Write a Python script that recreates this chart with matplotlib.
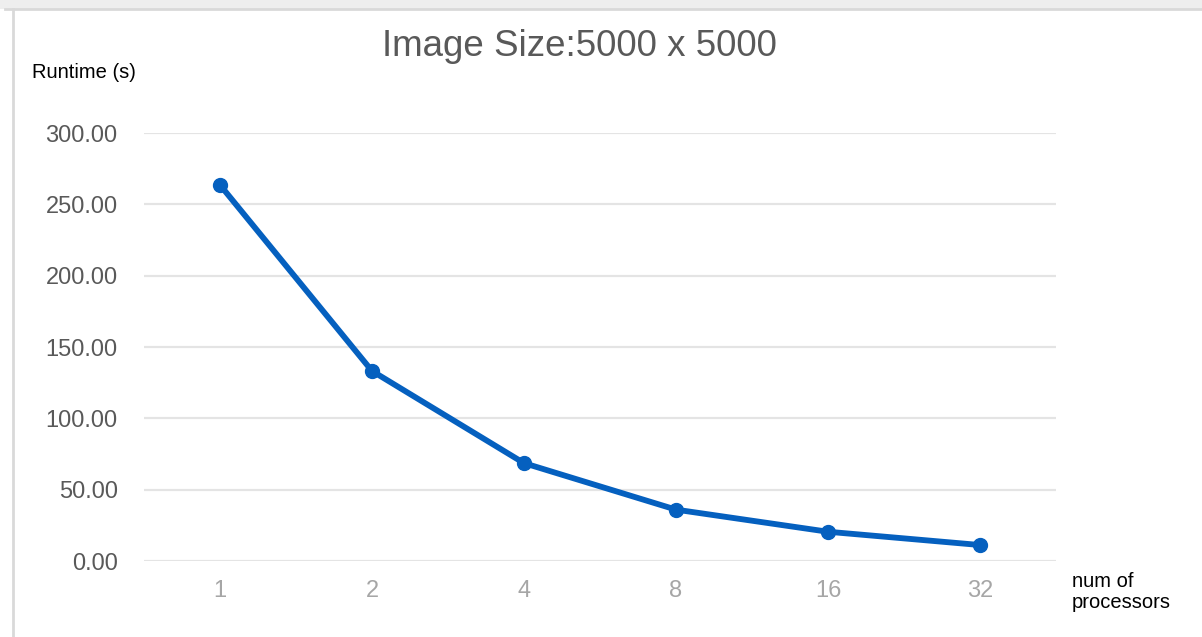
import matplotlib
matplotlib.use("Agg")
from matplotlib import pyplot as plt
from matplotlib.patches import Rectangle

# Daten
processors = ["1", "2", "4", "8", "16", "32"]
runtime = [263.6, 133.2, 68.6, 36.0, 20.5, 11.2]
y_ticks = [0, 50, 100, 150, 200, 250, 300]

W, H = 1202, 637
plt.rcParams["font.family"] = ["Liberation Sans", "DejaVu Sans"]

fig = plt.figure(figsize=(W / 100, H / 100), dpi=100)

# Rahmen und grauer Streifen oben
fig.patches.append(Rectangle((0, 1 - 9 / H), 1, 9 / H, transform=fig.transFigure,
                             facecolor="#eeeeee", edgecolor="none", zorder=0))
fig.lines.append(plt.Line2D([13 / W, 13 / W], [0, 1 - 9 / H], transform=fig.transFigure,
                            color="#d9d9d9", lw=2))
fig.lines.append(plt.Line2D([5 / W, 1], [1 - 9 / H, 1 - 9 / H], transform=fig.transFigure,
                            color="#d9d9d9", lw=2))

ax = fig.add_axes([144 / W, 1 - 561 / H, 912 / W, (561 - 133) / H])
x = list(range(len(processors)))
ax.plot(x, runtime, color="#0560bf", lw=4.2, marker="o", markersize=10,
        solid_capstyle="round", zorder=3, clip_on=False)

ax.set_xlim(-0.5, len(processors) - 0.5)
ax.set_ylim(0, 300)
ax.set_yticks(y_ticks)
ax.set_yticklabels(["%.2f" % v for v in y_ticks])
ax.set_xticks(x)
ax.set_xticklabels(processors)
ax.tick_params(axis="y", length=0, pad=19, labelsize=17, labelcolor="#595959")
ax.tick_params(axis="x", length=0, pad=14, labelsize=17, labelcolor="#a6a6a6")
ax.grid(axis="y", color="#e4e4e4", lw=1.6)
ax.set_axisbelow(True)
for s in ax.spines.values():
    s.set_visible(False)

fig.text(579 / W, 1 - 47 / H, "Image Size:5000 x 5000", ha="center", va="center",
         fontsize=26.5, color="#595959")
fig.text(32 / W, 1 - 73 / H, "Runtime (s)", ha="left", va="center",
         fontsize=14.5, color="black")
fig.text(1072 / W, 1 - 592 / H, "num of\nprocessors", ha="left", va="center",
         fontsize=14.5, color="black", linespacing=1.15)

fig.savefig("out.png", dpi=100)
